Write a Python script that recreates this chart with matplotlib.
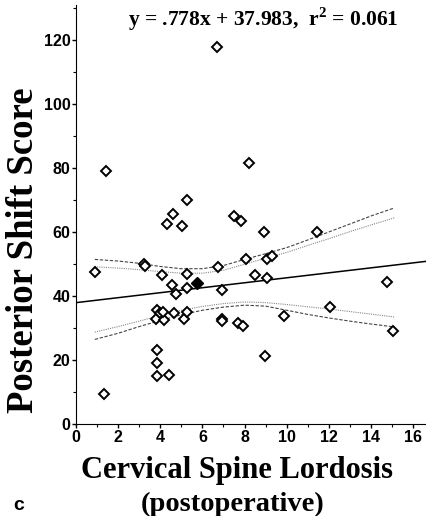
import numpy as np
import matplotlib.pyplot as plt
from matplotlib.ticker import MultipleLocator

plt.rcParams['mathtext.fontset'] = 'custom'
plt.rcParams['mathtext.rm'] = 'Liberation Serif:bold'
plt.rcParams['mathtext.bf'] = 'Liberation Serif:bold'

# lordosis (x) vs posterior shift score (y)
lordosis = [1.42, 0.90, 1.33, 3.23, 3.27, 4.10, 3.83, 3.78, 3.99, 4.18, 4.15,
            3.83, 3.83, 3.83, 4.40, 4.31, 4.61, 5.02, 5.29, 4.57, 4.73, 4.67,
            5.13, 5.25, 5.25, 5.25, 6.76, 6.92, 6.92, 6.92, 7.50, 7.82, 7.71,
            7.91, 8.07, 8.50, 8.23, 8.93, 9.08, 9.31, 11.43, 9.08, 14.75,
            12.03, 9.88, 15.04, 8.97, 6.68]
shift = [79.1, 47.6, 9.3, 50.2, 49.6, 46.5, 35.8, 33.0, 34.6, 32.7, 35.0,
         23.3, 19.0, 15.0, 15.3, 62.5, 65.6, 62.1, 70.2, 43.4, 40.8, 34.6,
         33.0, 35.1, 47.1, 42.7, 49.0, 41.9, 33.0, 32.3, 65.1, 63.4, 31.5,
         30.6, 51.5, 46.5, 81.5, 60.2, 51.6, 52.7, 60.2, 45.6, 44.4,
         36.5, 33.9, 29.1, 21.4, 117.9]
filled_x = [5.73]
filled_y = [44.2]

slope = 0.778
intercept = 37.983

# confidence bands
band_x = [0.9, 2, 3, 4, 5, 6, 7, 8, 9, 10, 11, 12, 13, 14, 15.1]
upper_outer = [51.5, 51.0, 50.3, 49.3, 48.6, 48.6, 49.6, 51.5, 53.3, 55.2,
               57.6, 60.1, 62.6, 65.1, 67.6]
upper_inner = [49.2, 48.8, 48.3, 47.7, 47.2, 47.2, 48.1, 50.0, 51.9, 53.7,
               55.9, 58.0, 60.2, 62.3, 64.5]
lower_inner = [28.8, 30.5, 32.2, 34.0, 35.6, 36.8, 37.7, 38.2, 38.0, 37.4,
               36.7, 36.0, 35.2, 34.4, 33.5]
lower_outer = [26.5, 28.4, 30.5, 32.4, 34.2, 35.6, 36.6, 37.2, 36.9, 35.6,
               34.3, 33.2, 32.2, 31.3, 30.4]

fig = plt.figure(figsize=(4.26, 5.16), dpi=100)
ax = fig.add_axes([0.178, 0.178, 0.822, 0.812])

xs = np.array([0, 16.6])
ax.plot(xs, slope * xs + intercept, color='black', lw=1.1)

ax.plot(band_x, upper_outer, color='#444444', lw=0.8, ls=(0, (3, 1.5)))
ax.plot(band_x, lower_outer, color='#444444', lw=0.8, ls=(0, (3, 1.5)))
ax.plot(band_x, upper_inner, color='#888888', lw=0.8, ls=(0, (1, 1)))
ax.plot(band_x, lower_inner, color='#888888', lw=0.8, ls=(0, (1, 1)))

ax.plot(lordosis, shift, ls='none', marker='D', ms=5, mfc='white',
        mec='black', mew=1.4)
ax.plot(filled_x, filled_y, ls='none', marker='D', ms=6, mfc='black',
        mec='black')

ax.set_xlim(0, 16.6)
ax.set_ylim(0, 131)
ax.xaxis.set_major_locator(MultipleLocator(2))
ax.xaxis.set_minor_locator(MultipleLocator(1))
ax.yaxis.set_major_locator(MultipleLocator(20))
ax.yaxis.set_minor_locator(MultipleLocator(10))
ax.spines['top'].set_visible(False)
ax.spines['right'].set_visible(False)
ax.tick_params(which='major', length=3, width=1, labelsize=11.5, pad=1)
ax.tick_params(which='minor', length=2, width=0.8)
for lab in ax.get_xticklabels() + ax.get_yticklabels():
    lab.set_fontfamily('Liberation Sans')
    lab.set_fontweight('bold')

fig.text(0.054, 0.516, 'Posterior Shift Score', rotation=90, ha='center',
         va='center', fontfamily='Liberation Serif', fontweight='bold',
         fontsize=26.5)
fig.text(0.557, 0.089, 'Cervical Spine Lordosis', ha='center', va='center',
         fontfamily='Liberation Serif', fontweight='bold', fontsize=22)
fig.text(0.545, 0.022, '(postoperative)', ha='center', va='center',
         fontfamily='Liberation Serif', fontweight='bold', fontsize=20.5)
fig.text(0.03, 0.02, 'c', ha='left', va='center',
         fontfamily='Liberation Sans', fontweight='bold', fontsize=14)
fig.text(0.618, 0.962, r'y = .778x + 37.983,  r$^{\mathrm{2}}$ = 0.061',
         ha='center', va='center', fontfamily='Liberation Serif',
         fontweight='bold', fontsize=15.5)

fig.savefig('out.png', dpi=100)
